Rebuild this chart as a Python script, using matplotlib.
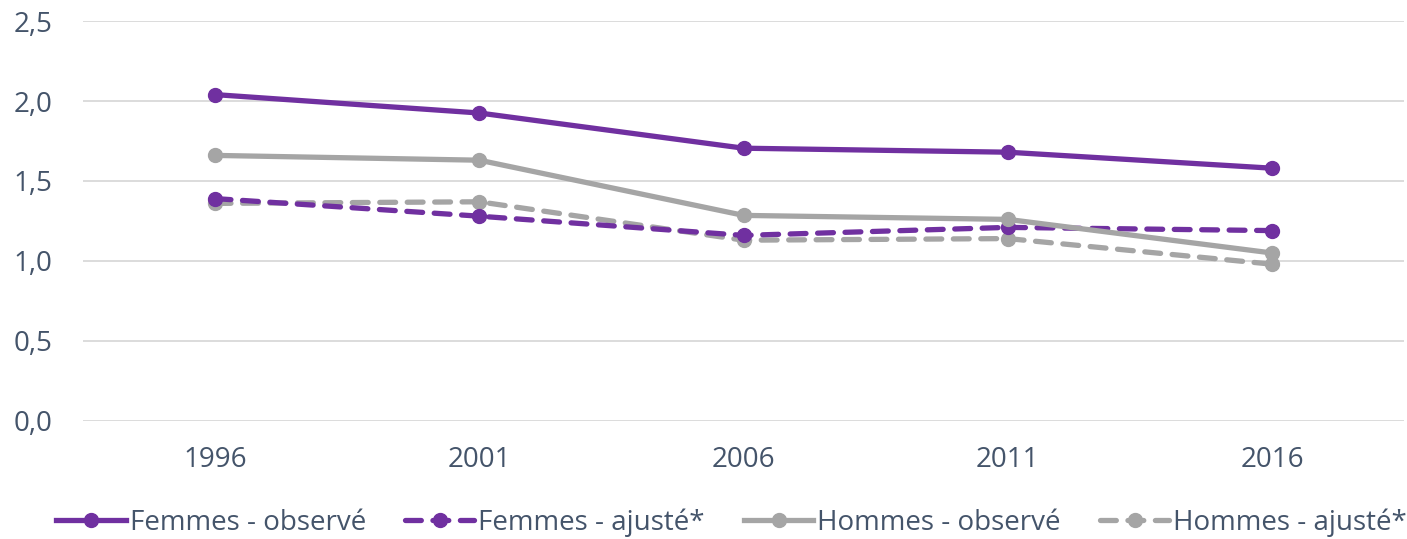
import matplotlib
matplotlib.use("Agg")
import matplotlib.pyplot as plt
from matplotlib.ticker import FuncFormatter

years = ["1996", "2001", "2006", "2011", "2016"]
femmes_obs = [2.04, 1.925, 1.705, 1.68, 1.58]
femmes_adj = [1.39, 1.28, 1.16, 1.21, 1.19]
hommes_obs = [1.66, 1.63, 1.285, 1.26, 1.05]
hommes_adj = [1.36, 1.37, 1.13, 1.14, 0.98]
labels = ["Femmes - observé", "Femmes - ajusté*", "Hommes - observé", "Hommes - ajusté*"]

plt.rcParams['font.family'] = ['Open Sans', 'DejaVu Sans']
purple = "#7030A0"
gray = "#A5A5A5"
text_color = "#44546A"

fig = plt.figure(figsize=(14.07, 5.39), dpi=100)
ax = fig.add_axes([0.059, 0.219, 0.939, 0.742])

x = list(range(len(years)))
lw = 3.8
ms = 10
dash = (0, (3.0, 2.2))
ax.plot(x, femmes_obs, color=purple, lw=lw, marker='o', ms=ms, label=labels[0], zorder=4)
ax.plot(x, femmes_adj, color=purple, lw=lw, ls=dash, dash_capstyle='round', marker='o', ms=ms, label=labels[1], zorder=3)
ax.plot(x, hommes_obs, color=gray, lw=lw, marker='o', ms=ms, label=labels[2], zorder=3)
ax.plot(x, hommes_adj, color=gray, lw=lw, ls=dash, dash_capstyle='round', marker='o', ms=ms, label=labels[3], zorder=2)

ax.set_xlim(-0.5, 4.5)
ax.set_ylim(0, 2.5)
ax.set_yticks([0, 0.5, 1.0, 1.5, 2.0, 2.5])
ax.yaxis.set_major_formatter(FuncFormatter(lambda v, p: f"{v:.1f}".replace(".", ",")))
ax.set_xticks(x)
ax.set_xticklabels(years)
ax.grid(axis='y', color="#D9D9D9", lw=1.3)
ax.set_axisbelow(True)
for s in ax.spines.values():
    s.set_visible(False)
ax.tick_params(axis='both', length=0, labelsize=20, colors=text_color)
ax.tick_params(axis='x', pad=18)
ax.tick_params(axis='y', pad=22)

leg = fig.legend(loc='center', bbox_to_anchor=(0.52, 0.03), ncol=4, frameon=False,
                 fontsize=20, handlelength=2.5, columnspacing=1.4, handletextpad=0.15,
                 borderpad=0.1)
for t in leg.get_texts():
    t.set_color(text_color)

fig.savefig("out.png", dpi=100)
